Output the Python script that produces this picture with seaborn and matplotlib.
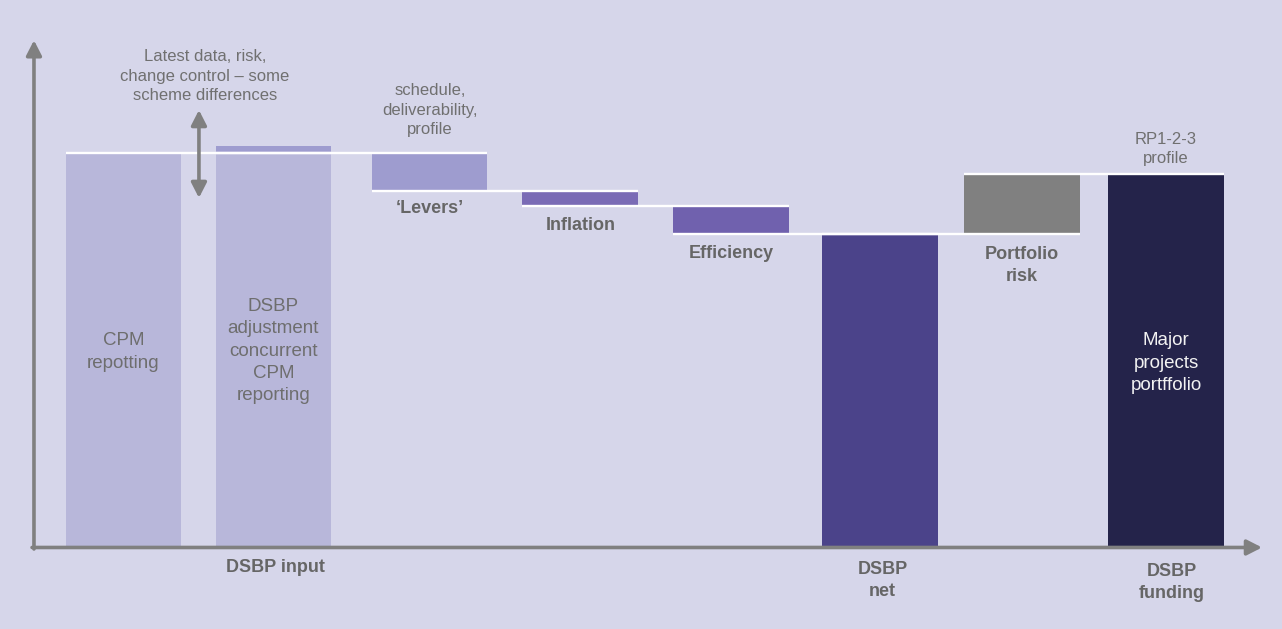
import numpy as np
import pandas as pd
import matplotlib
matplotlib.use("Agg")
import matplotlib.pyplot as plt
import seaborn as sns

# ---------------- data ----------------
stages = ["CPM repotting", "DSBP adjustment", "'Levers'", "Inflation",
          "Efficiency", "DSBP net", "Portfolio risk", "Major projects portfolio"]
step_values = [100.0, 0.0, -9.6, -3.8, -7.1, 0.0, 15.2, 0.0]
is_total = [True, True, False, False, False, True, False, True]
adjustment_extra = 1.8   # darker cap on the DSBP adjustment bar

# ---------------- layout / style ----------------
slots = [0, 1, 2.04, 3.045, 4.05, 5.045, 5.99, 6.95]
bar_w = 0.773
bg = "#d6d6ea"
bar_colors = ["#b8b7da", "#b8b7da", "#9e9ccf", "#7a6bb5",
              "#7061ae", "#4b438a", "#808080", "#24234a"]
cap_color = "#9e9ccf"
axis_grey = "#808080"
bold_grey = "#666666"
note_grey = "#707070"

# waterfall geometry computed from the data
bottoms, heights, levels = [], [], []
level = 0.0
for v, tot in zip(step_values, is_total):
    if tot:
        level += v
        bottoms.append(0.0)
        heights.append(level)
    else:
        new = level + v
        bottoms.append(min(level, new))
        heights.append(abs(v))
        level = new
    levels.append(level)

sns.set_style("white")
plt.rcParams["font.family"] = ["Liberation Sans", "DejaVu Sans"]

fig = plt.figure(figsize=(12.82, 6.29), dpi=100)
fig.patch.set_facecolor(bg)
ax = fig.add_axes([0, 0, 1, 1])
ax.set_facecolor(bg)

df = pd.DataFrame({"slot": slots, "height": heights})
native = np.min(np.diff(slots))
sns.barplot(data=df, x="slot", y="height", native_scale=True,
            width=bar_w / native, bottom=bottoms, color=bar_colors[0],
            saturation=1, errorbar=None, linewidth=0, ax=ax)
for patch, c in zip(ax.patches, bar_colors):
    patch.set_facecolor(c)
    patch.set_edgecolor("none")

# cap on the DSBP adjustment bar
n_before = len(ax.patches)
sns.barplot(x=[slots[1]], y=[adjustment_extra], native_scale=True,
            width=bar_w, bottom=[levels[1]], color=cap_color, saturation=1,
            errorbar=None, linewidth=0, ax=ax)
for patch in ax.patches[n_before:]:
    patch.set_facecolor(cap_color)
    patch.set_edgecolor("none")

# white connector lines
for i in range(len(slots) - 1):
    ax.hlines(levels[i], slots[i] - bar_w / 2, slots[i + 1] + bar_w / 2,
              color="white", lw=1.7, zorder=3)

ax.set_xlim(-0.8233, 7.7233)
ax.set_ylim(-20.81, 138.83)
ax.axis("off")

# axes arrows
arrow_kw = dict(arrowstyle="-|>,head_length=0.45,head_width=0.23",
                color=axis_grey, lw=2.6, mutation_scale=20, shrinkA=0, shrinkB=0)
ax.annotate("", xy=(0.0265, 0.936), xytext=(0.0265, 0.1272),
            xycoords="axes fraction", textcoords="axes fraction", arrowprops=arrow_kw)
ax.annotate("", xy=(0.9844, 0.1296), xytext=(0.025, 0.1296),
            xycoords="axes fraction", textcoords="axes fraction", arrowprops=arrow_kw)

# double-headed arrow
ax.annotate("", xy=(0.503, 110.9), xytext=(0.503, 88.6),
            arrowprops=dict(arrowstyle="<|-|>,head_length=0.45,head_width=0.23",
                            color=axis_grey, lw=2.6, mutation_scale=20,
                            shrinkA=0, shrinkB=0), zorder=4)

def note(x, y, s, size=12, color=note_grey, weight="normal", ls=1.37):
    ax.text(x, y, s, ha="center", va="center", multialignment="center",
            fontsize=size, color=color, fontweight=weight, linespacing=ls, zorder=5)

note(0.543, 119.5, "Latest data, risk,\nchange control \u2013 some\nscheme differences")
note(2.043, 110.9, "schedule,\ndeliverability,\nprofile")
note(6.949, 101.0, "RP1-2-3\nprofile")

note(2.043, 86.0, "\u2018Levers\u2019", size=13, color=bold_grey, weight="bold")
note(3.049, 81.6, "Inflation", size=13, color=bold_grey, weight="bold")
note(4.055, 74.4, "Efficiency", size=13, color=bold_grey, weight="bold")
note(5.988, 71.4, "Portfolio\nrisk", size=13, color=bold_grey, weight="bold", ls=1.36)

note(0.0, 49.5, "CPM\nrepotting", size=13.5, color="#6e6e6e", ls=1.4)
note(0.999, 49.7, "DSBP\nadjustment\nconcurrent\nCPM\nreporting", size=13.5, color="#6e6e6e", ls=1.4)
note(6.95, 46.7, "Major\nprojects\nportffolio", size=13.5, color="#f2f2f2", ls=1.4)

note(1.01, -5.1, "DSBP input", size=13, color=bold_grey, weight="bold")
note(5.06, -8.4, "DSBP\nnet", size=13, color=bold_grey, weight="bold", ls=1.38)
note(6.99, -8.9, "DSBP\nfunding", size=13, color=bold_grey, weight="bold", ls=1.38)

fig.savefig("out.png", dpi=100, facecolor=bg)
